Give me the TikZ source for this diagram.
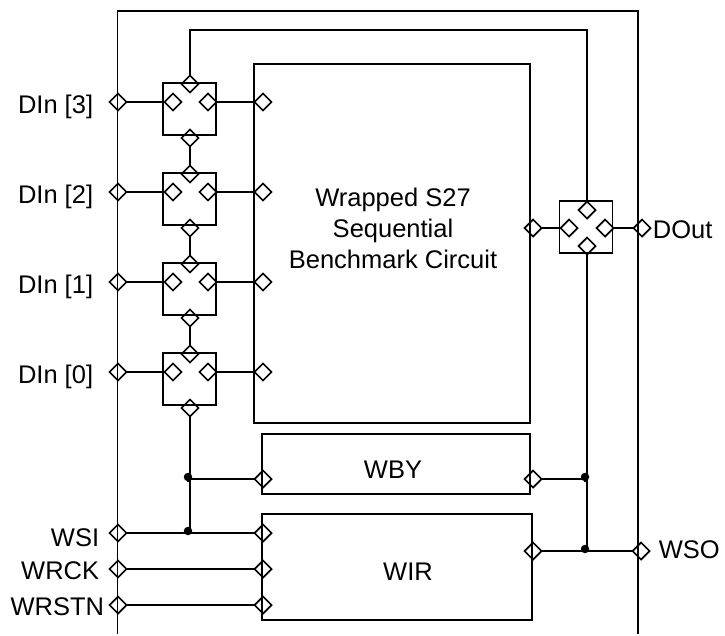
\documentclass[tikz,border=0pt]{standalone}
\usepackage{fontspec}
\setmainfont{Liberation Sans}
\usetikzlibrary{shapes.geometric}
\tikzset{
    port/.style={draw, diamond, minimum width=17pt, minimum height=17pt, inner sep=0pt, outer sep=0pt},
    muxbox/.style={draw, minimum width=53pt, minimum height=52pt, inner sep=0pt, outer sep=0pt},
    blockbox/.style={draw, inner sep=0pt, outer sep=0pt},
    junction/.style={circle, fill=black, minimum size=8.5pt, inner sep=0pt},
    lbl/.style={inner sep=0pt, font=\fontsize{25.5}{31}\selectfont},
}
\begin{document}
\begin{tikzpicture}[x=1pt, y=-1pt, line width=1.75pt]
                \useasboundingbox (0,0) rectangle (725,635);
                \draw (117.5,634) -- (117.5,11) -- (638,11) -- (638,634);
                \node[blockbox, minimum width=276pt, minimum height=359pt] (circuit) at (392,243.5) {};
                \node[blockbox, minimum width=268pt, minimum height=60pt] (wby) at (396,464) {};
                \node[blockbox, minimum width=270pt, minimum height=106pt] (wir) at (397,567) {};
                \node[lbl, align=center] (circuitlabel) at (393,228) {Wrapped S27\\Sequential\\Benchmark Circuit};
                \node[lbl] (wbylabel) at (393,470) {WBY};
                \node[lbl] (wirlabel) at (408,572) {WIR};
                \foreach \i/\y in {3/102, 2/192, 1/282, 0/372} {
                    \node[muxbox] (mux\i) at (189.5,\y+7) {};
                    \node[port] (dinport\i) at (118,\y) {};
                    \node[port] (muxleft\i) at (173,\y) {};
                    \node[port] (muxright\i) at (208,\y) {};
                    \node[port] (muxtop\i) at (190,\y-18) {};
                    \node[port] (muxbot\i) at (190,\y+36) {};
                    \node[port] (circuitin\i) at (263,\y) {};
                    \node[lbl, anchor=east] (dinlabel\i) at (94,\y+4.5) {DIn [\i]};
                    \draw (dinport\i.east) -- (muxleft\i.west);
                    \draw (muxright\i.east) -- (circuitin\i.west);
                }
                \draw (muxbot3.south) -- (muxtop2.north);
                \draw (muxbot2.south) -- (muxtop1.north);
                \draw (muxbot1.south) -- (muxtop0.north);
                \node[muxbox] (dmux) at (586,227) {};
                \node[port] (dmuxleft) at (569,228) {};
                \node[port] (dmuxright) at (605,228) {};
                \node[port] (dmuxtop) at (587,210) {};
                \node[port] (dmuxbot) at (587,246) {};
                \node[port] (circuitout) at (533,228) {};
                \node[port] (doutport) at (642,228) {};
                \node[lbl, anchor=west] (doutlabel) at (652,230) {DOut};
                \draw (circuitout.east) -- (dmuxleft.west);
                \draw (dmuxright.east) -- (doutport.west);
                \coordinate (wiretop) at (587,30);
                \draw (muxtop3.north) |- (wiretop) -- (dmuxtop.north);
                \node[port] (wbyin) at (263,479) {};
                \node[port] (wbyout) at (533,479) {};
                \node[port] (wirout) at (533,551) {};
                \node[port] (wsoport) at (641,551) {};
                \node[lbl, anchor=west] (wsolabel) at (658,550) {WSO};
                \foreach \n/\t/\y/\e/\ty in {wsi/WSI/533/100/538, wrck/WRCK/569/100/571, wrstn/WRSTN/605/105/607} {
                    \node[port] (\n port) at (118,\y) {};
                    \node[port] (\n in) at (263,\y) {};
                    \node[lbl, anchor=east] (\n label) at (\e,\ty) {\t};
                    \draw (\n port.east) -- (\n in.west);
                }
                \node[junction] (dotwby) at (188,477) {};
                \node[junction] (dotwsi) at (188,531) {};
                \node[junction] (dotout) at (585,477) {};
                \node[junction] (dotwso) at (585,549) {};
                \draw (muxbot0.south) -- (muxbot0.south |- wsiin);
                \draw (wbyin.west) -| (dotwby);
                \draw (wbyout.east) -| (dotout);
                \draw (wirout.east) -- (wsoport.west);
                \draw (dmuxbot.south) -- (dmuxbot.south |- wirout);
            \end{tikzpicture}
\end{document}
